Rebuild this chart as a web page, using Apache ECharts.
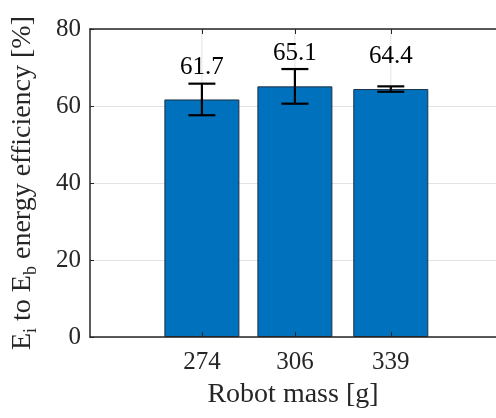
<!DOCTYPE html>
<html>
<head>
<meta charset="utf-8">
<script src="https://cdn.jsdelivr.net/npm/echarts@6/dist/echarts.min.js"></script>
<style>
  html, body { margin: 0; padding: 0; background: #fff; }
  #chart { width: 496px; height: 418px; }
</style>
</head>
<body>
<div id="chart"></div>
<script>
// Robot mass [g] for each configuration
const masses = [274, 306, 339];
// Mean E_i -> E_b energy efficiency [%]
const efficiency = [61.7, 65.1, 64.4];
// Standard deviation of the efficiency [%]
const efficiencyStd = [4.1, 4.5, 0.7];
// Y axis range and step
const yMin = 0;
const yMax = 80;
const yStep = 20;

const FONT = 'Liberation Serif';
const AXIS_COLOR = '#262626';
const GRID_COLOR = '#e3e3e3';

const chart = echarts.init(document.getElementById('chart'), null, { renderer: 'canvas' });

const barData = masses.map((m, i) => [m, efficiency[i]]);
const errData = masses.map((m, i) => [m, efficiency[i] - efficiencyStd[i], efficiency[i] + efficiencyStd[i]]);
const gridData = masses.map(m => [m, yMin]);

const xRange = { min: 235.5, max: 375.2 };

chart.setOption({
  animation: false,
  backgroundColor: '#fff',
  grid: { left: 90, right: 0, top: 29, bottom: 81, containLabel: false },
  xAxis: [
    {
      type: 'value',
      position: 'bottom',
      min: xRange.min,
      max: xRange.max,
      z: 3,
      name: 'Robot mass [g]',
      nameLocation: 'middle',
      nameGap: 44,
      nameTextStyle: { fontFamily: FONT, fontSize: 28, color: AXIS_COLOR },
      axisLine: { show: true, lineStyle: { color: AXIS_COLOR, width: 1.5 } },
      axisTick: { show: true, inside: true, length: 5, customValues: masses, lineStyle: { color: AXIS_COLOR } },
      axisLabel: {
        customValues: masses,
        margin: 13,
        fontFamily: FONT, fontSize: 25, color: AXIS_COLOR,
        formatter: v => String(v)
      },
      splitLine: { show: false }
    },
    {
      type: 'value',
      position: 'top',
      min: xRange.min,
      max: xRange.max,
      z: 3,
      axisLine: { show: true, onZero: false, lineStyle: { color: AXIS_COLOR, width: 1.5 } },
      axisTick: { show: true, inside: true, length: 5, customValues: masses, lineStyle: { color: AXIS_COLOR } },
      axisLabel: { show: false },
      splitLine: { show: false }
    }
  ],
  yAxis: {
    type: 'value',
    min: yMin,
    max: yMax,
    interval: yStep,
    name: 'E{sub|i} to E{sub|b} energy efficiency [%]',
    nameLocation: 'middle',
    nameGap: 50,
    nameTextStyle: {
      fontFamily: FONT, fontSize: 28, color: AXIS_COLOR,
      rich: { sub: { fontFamily: FONT, fontSize: 18, color: AXIS_COLOR, padding: [16, 0, 0, 0] } }
    },
    axisLine: { show: true, lineStyle: { color: AXIS_COLOR, width: 1.5 } },
    axisTick: { show: true, inside: true, length: 4, lineStyle: { color: AXIS_COLOR } },
    axisLabel: { margin: 9, fontFamily: FONT, fontSize: 25, color: AXIS_COLOR },
    splitLine: { show: true, lineStyle: { color: GRID_COLOR, width: 1 } }
  },
  series: [
    {
      // vertical grid lines at each mass tick
      type: 'custom',
      name: 'xgrid',
      silent: true,
      z: 1,
      data: gridData,
      encode: { x: 0, y: 1 },
      renderItem: (params, api) => {
        const m = api.value(0);
        const p0 = api.coord([m, yMin]);
        const p1 = api.coord([m, yMax]);
        return {
          type: 'line',
          shape: { x1: p0[0], y1: p0[1], x2: p1[0], y2: p1[1] },
          style: { stroke: GRID_COLOR, lineWidth: 1 }
        };
      }
    },
    {
      type: 'bar',
      name: 'efficiency',
      z: 2,
      barWidth: 75,
      data: barData,
      itemStyle: { color: '#0072BD', borderColor: '#1d2f40', borderWidth: 1 },
      label: {
        show: true,
        position: 'top',
        distance: 20,
        fontFamily: FONT,
        fontSize: 25,
        color: '#000',
        formatter: p => p.value[1].toFixed(1)
      }
    },
    {
      // error bars: mean ± one standard deviation
      type: 'custom',
      name: 'std',
      z: 4,
      data: errData,
      encode: { x: 0, y: [1, 2] },
      renderItem: (params, api) => {
        const m = api.value(0);
        const lo = api.coord([m, api.value(1)]);
        const hi = api.coord([m, api.value(2)]);
        const half = 13.5;
        const style = { stroke: '#000', lineWidth: 2.2 };
        return {
          type: 'group',
          children: [
            { type: 'line', shape: { x1: lo[0], y1: lo[1], x2: hi[0], y2: hi[1] }, style },
            { type: 'line', shape: { x1: hi[0] - half, y1: hi[1], x2: hi[0] + half, y2: hi[1] }, style },
            { type: 'line', shape: { x1: lo[0] - half, y1: lo[1], x2: lo[0] + half, y2: lo[1] }, style }
          ]
        };
      }
    }
  ]
});
</script>
</body>
</html>
